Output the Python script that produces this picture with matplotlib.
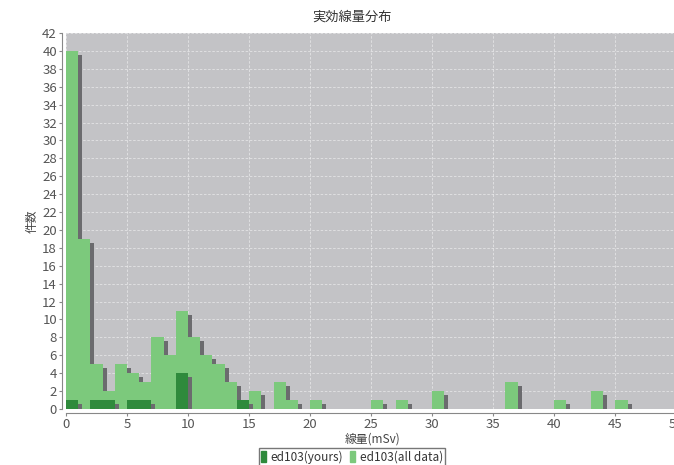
import matplotlib
matplotlib.use("Agg")
import matplotlib.pyplot as plt
import matplotlib.transforms as mtransforms
import numpy as np

plt.rcParams['font.family'] = ['Noto Sans CJK JP', 'DejaVu Sans']

# Histogram bins (mSv), width 1
bin_left = list(range(0, 46))
all_counts = [40, 19, 5, 2, 5, 4, 3, 8, 6, 11,
              8, 6, 5, 3, 1, 2, 0, 3, 1, 0,
              1, 0, 0, 0, 0, 1, 0, 1, 0, 0,
              2, 0, 0, 0, 0, 0, 3, 0, 0, 0,
              1, 0, 0, 2, 0, 1]
your_counts = [1, 0, 1, 1, 0, 1, 1, 0, 0, 4,
               0, 0, 0, 0, 1] + [0] * 31

title = "実効線量分布"
x_label = "線量(mSv)"
y_label = "件数"
series_names = ["ed103(yours)", "ed103(all data)"]
x_ticks = list(range(0, 55, 5))
y_ticks = list(range(0, 44, 2))

W, H = 674, 465
fig = plt.figure(figsize=(W / 100, H / 100), dpi=100)
ax = fig.add_axes([66 / W, 1 - 409 / H, (680 - 66) / W, (409 - 33) / H])
ax.set_facecolor('#c3c3c6')

light = '#7cc97c'
dark = '#2f8a3c'
shadow = '#6b6b6e'

shadow_tf = ax.transData + mtransforms.ScaledTranslation(4 / 100, -4 / 100, fig.dpi_scale_trans)

def draw_series(counts, color, z):
    xs = np.array(bin_left, dtype=float)
    hs = np.array(counts, dtype=float)
    m = hs > 0
    ax.bar(xs[m], hs[m], width=1.0, align='edge', color=shadow,
           transform=shadow_tf, zorder=z, linewidth=0)
    ax.bar(xs[m], hs[m], width=1.0, align='edge', color=color,
           zorder=z + 0.5, linewidth=0)

draw_series(all_counts, light, 2)
draw_series(your_counts, dark, 3)

ax.set_xlim(0, 50.3)
ax.set_ylim(0, 42)
ax.set_xticks(x_ticks)
ax.set_yticks(y_ticks)
ax.grid(True, color='white', linestyle=(0, (3, 2)), linewidth=0.6, alpha=0.55, zorder=1)
ax.set_axisbelow(True)

for s in ['top', 'right']:
    ax.spines[s].set_visible(False)
for s in ['left', 'bottom']:
    ax.spines[s].set_position(('outward', 3))
    ax.spines[s].set_color('#888888')
    ax.spines[s].set_linewidth(0.8)
ax.tick_params(colors='#888888', labelcolor='#555555', labelsize=9.5, length=2, width=0.8, pad=1.5)

ax.set_xlabel(x_label, fontsize=8.5, color='#444444', labelpad=1)
ax.set_ylabel(y_label, fontsize=8.5, color='#444444')
ax.yaxis.set_label_coords(-0.045, 0.5)
fig.text(352 / W, 1 - 17 / H, title, ha='center', va='center', fontsize=9.5,
         color='#333333')

handles = [plt.Rectangle((0, 0), 1, 1, color=dark),
           plt.Rectangle((0, 0), 1, 1, color=light)]
leg = fig.legend(handles, series_names, loc='center', bbox_to_anchor=(352 / W, 1 - 457 / H),
                 ncol=2, fontsize=8.5, frameon=True, fancybox=False, edgecolor='#555555',
                 handlelength=0.4, handleheight=1.0, handletextpad=0.4, columnspacing=0.6,
                 borderpad=0.2, borderaxespad=0)
for t in leg.get_texts():
    t.set_color('#333333')

fig.savefig('out.png', dpi=100, facecolor='white')
